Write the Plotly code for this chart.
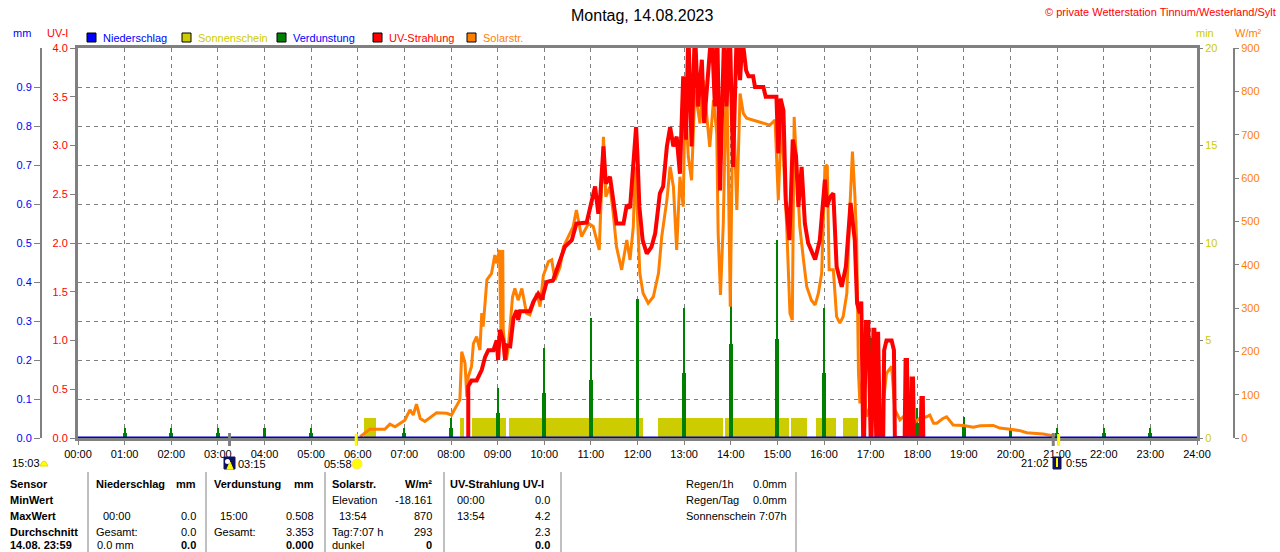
import plotly.graph_objects as go

W, H = 1280, 552
X0, X1, Y0, Y1 = 78, 1197, 48, 438  # plot frame in pixels
FONT = "Liberation Sans, Arial, sans-serif"
GRAY = "#808080"
C_BLUE, C_YEL, C_GREEN, C_RED, C_ORANGE = "#0000ff", "#cccc00", "#008000", "#ff0000", "#ff8000"

HOURS = list(range(25))
HOUR_LABELS = [f"{h:02d}:00" for h in HOURS]

# --- data -------------------------------------------------------------------
NIEDERSCHLAG_T = [0, 24]
NIEDERSCHLAG_MM = [0.0, 0.0]

SUN_START = [6.13, 8.19, 8.45, 9.24, 12.45, 13.87, 15.29, 15.82, 16.41]
SUN_END = [6.39, 8.28, 9.18, 12.12, 13.83, 15.25, 15.64, 16.26, 16.73]
SUN_MIN = 1.05

VERD_HOURS = [1, 2, 3, 4, 5, 7, 8, 9, 10, 11, 12, 13, 14, 15, 16, 17, 18, 19, 20, 21, 22, 23]
VERD_TOP = [0.026, 0.026, 0.026, 0.026, 0.026, 0.025, 0.052, 0.129, 0.230, 0.307, 0.356,
            0.333, 0.484, 0.508, 0.333, 0.256, 0.078, 0.053, 0.026, 0.026, 0.026, 0.026]
VERD_BASE = [0.014, 0.014, 0.014, 0.014, 0.014, 0.013, 0.026, 0.065, 0.116, 0.150, 0.176,
             0.166, 0.242, 0.254, 0.166, 0.125, 0.038, 0.027, 0.013, 0.013, 0.013, 0.013]

SOLAR_T = [
    6.05, 6.26, 6.58, 6.69, 6.80, 7.01, 7.12, 7.19, 7.26, 7.34,
    7.44, 7.69, 7.91, 8.01, 8.19, 8.23, 8.30, 8.34, 8.37, 8.44,
    8.48, 8.55, 8.62, 8.66, 8.69, 8.77, 8.87, 8.94, 8.98, 9.04,
    9.07, 9.09, 9.11, 9.12, 9.19, 9.23, 9.32, 9.37, 9.44, 9.52,
    9.62, 9.69, 9.84, 9.91, 9.98, 10.09, 10.16, 10.23, 10.34, 10.41,
    10.62, 10.69, 10.80, 10.95, 11.05, 11.18, 11.27, 11.32, 11.41, 11.48,
    11.55, 11.66, 11.77, 11.84, 11.91, 11.95, 11.98, 12.05, 12.12, 12.23,
    12.34, 12.45, 12.52, 12.63, 12.70, 12.77, 12.84, 12.91, 12.98, 13.02,
    13.09, 13.16, 13.23, 13.34, 13.41, 13.48, 13.55, 13.63, 13.70, 13.73,
    13.78, 13.84, 13.91, 13.95, 13.99, 14.05, 14.13, 14.20, 14.27, 14.34,
    14.48, 14.63, 14.84, 14.95, 15.02, 15.09, 15.20, 15.27, 15.32, 15.36,
    15.41, 15.48, 15.56, 15.63, 15.73, 15.81, 15.88, 15.95, 16.02, 16.07,
    16.11, 16.20, 16.27, 16.34, 16.41, 16.49, 16.56, 16.61, 16.66, 16.70,
    16.74, 16.77, 16.84, 16.91, 16.99, 17.13, 17.25, 17.34, 17.45, 17.52,
    17.63, 17.70, 17.92, 18.05, 18.20, 18.27, 18.35, 18.42, 18.55, 18.63,
    18.77, 18.99, 19.20, 19.35, 19.63, 19.77, 19.99, 20.20, 20.35, 20.70,
    20.92, 20.95,
]
SOLAR_W = [
    3, 20, 20, 32, 26, 41, 65, 53, 78, 45,
    38, 58, 57, 53, 88, 199, 173, 95, 141, 165,
    218, 234, 203, 288, 257, 365, 380, 422, 403, 434,
    250, 420, 434, 249, 180, 211, 326, 345, 318, 345,
    288, 284, 334, 303, 375, 407, 411, 365, 395, 441,
    488, 526, 465, 495, 488, 434, 695, 557, 580, 518,
    441, 388, 457, 411, 488, 626, 565, 380, 334, 311,
    326, 380, 465, 549, 626, 580, 434, 603, 534, 780,
    649, 595, 803, 726, 826, 741, 672, 780, 703, 472,
    330, 495, 865, 600, 303, 803, 526, 795, 749, 738,
    734, 728, 722, 734, 549, 741, 488, 288, 272, 741,
    626, 488, 411, 349, 318, 307, 334, 380, 626, 630,
    388, 388, 280, 265, 280, 334, 542, 661, 565, 457,
    149, 80, 149, 49, 72, 41, 60, 149, 165, 65,
    42, 49, 34, 45, 49, 53, 34, 34, 45, 49,
    30, 29, 25, 28, 29, 23, 20, 17, 12, 9,
    5, 2,
]

UV_T = [
    8.37, 8.37, 8.44, 8.55, 8.66, 8.73, 8.80, 8.91, 8.98, 9.01,
    9.05, 9.12, 9.16, 9.19, 9.27, 9.30, 9.34, 9.41, 9.44, 9.48,
    9.69, 9.77, 9.87, 9.95, 10.05, 10.19, 10.30, 10.37, 10.44, 10.59,
    10.69, 10.91, 10.98, 11.09, 11.16, 11.20, 11.27, 11.32, 11.41, 11.48,
    11.55, 11.70, 11.77, 11.84, 11.91, 11.97, 12.00, 12.04, 12.11, 12.20,
    12.30, 12.38, 12.48, 12.55, 12.63, 12.70, 12.77, 12.84, 12.91, 12.98,
    13.04, 13.09, 13.16, 13.23, 13.30, 13.38, 13.43, 13.52, 13.59, 13.66,
    13.71, 13.77, 13.86, 13.91, 13.98, 14.05, 14.13, 14.20, 14.25, 14.33,
    14.38, 14.48, 14.52, 14.70, 14.75, 14.98, 15.02, 15.07, 15.13, 15.18,
    15.26, 15.33, 15.40, 15.45, 15.52, 15.59, 15.66, 15.81, 15.91, 16.02,
    16.06, 16.13, 16.20, 16.27, 16.38, 16.47, 16.52, 16.57, 16.66, 16.71,
    16.77, 16.80, 16.84, 16.86, 16.90, 16.95, 17.00, 17.02, 17.06, 17.08,
    17.12, 17.14, 17.16, 17.18, 17.20, 17.27, 17.29, 17.34, 17.45, 17.50,
    17.52, 17.55, 17.73, 17.75, 17.78, 17.80, 17.86, 17.88, 17.91, 17.93,
    18.07, 18.09, 18.12, 18.13,
]
UV_I = [
    0.0, 0.53, 0.59, 0.59, 0.70, 0.83, 0.90, 0.90, 1.00, 0.80,
    1.11, 1.00, 0.80, 0.95, 0.94, 1.11, 1.23, 1.31, 1.21, 1.30,
    1.30, 1.40, 1.48, 1.42, 1.60, 1.62, 1.76, 1.86, 1.96, 2.03,
    2.20, 2.21, 2.37, 2.58, 2.30, 2.47, 2.99, 2.61, 2.68, 2.41,
    2.20, 2.20, 2.39, 2.36, 2.85, 3.19, 2.89, 2.37, 2.03, 1.89,
    1.96, 2.10, 2.51, 2.58, 2.99, 3.19, 2.99, 3.09, 2.71, 3.71,
    3.06, 4.20, 2.99, 4.20, 3.40, 3.88, 3.23, 3.77, 4.20, 3.40,
    4.20, 2.54, 4.20, 3.40, 4.20, 2.78, 4.20, 3.67, 4.10, 3.77,
    3.71, 3.71, 3.60, 3.60, 3.50, 3.50, 2.92, 3.48, 3.36, 2.44,
    2.03, 3.06, 2.89, 2.37, 2.78, 2.20, 2.00, 1.83, 2.03, 2.65,
    2.37, 2.47, 2.51, 1.76, 1.55, 1.76, 2.10, 2.41, 2.03, 1.38,
    1.28, 1.40, 0.0, 0.0, 1.19, 1.19, 0.0, 0.0, 1.11, 1.11,
    0.0, 0.0, 1.09, 0.50, 0.0, 0.0, 0.90, 1.00, 1.00, 0.90,
    0.0, 0.0, 0.0, 0.80, 0.80, 0.0, 0.0, 0.61, 0.61, 0.0,
    0.0, 0.41, 0.41, 0.0,
]

MOON_EVENTS = [3.25, 20.917]   # 03:15 / 20:55
SUN_EVENTS = [5.967, 21.033]   # 05:58 / 21:02


def px(x):
    return x / W


def py(y):
    return 1 - y / H


# --- figure -----------------------------------------------------------------
fig = go.Figure()

fig.add_bar(
    x=[(a + b) / 2 for a, b in zip(SUN_START, SUN_END)],
    y=[SUN_MIN] * len(SUN_START),
    width=[b - a for a, b in zip(SUN_START, SUN_END)],
    marker=dict(color=C_YEL, line_width=0),
    name="Sonnenschein",
    yaxis="y",
)
fig.add_bar(x=VERD_HOURS, y=VERD_BASE, width=0.085, marker=dict(color=C_GREEN, line_width=0),
            name="Verdunstung", yaxis="y2")
fig.add_bar(x=VERD_HOURS, y=VERD_TOP, width=0.045, marker=dict(color=C_GREEN, line_width=0),
            name="Verdunstung", yaxis="y2")
fig.add_scatter(x=SOLAR_T, y=SOLAR_W, mode="lines", line=dict(color=C_ORANGE, width=3),
                name="Solarstr.", yaxis="y3")
fig.add_scatter(x=UV_T, y=UV_I, mode="lines", line=dict(color=C_RED, width=4),
                name="UV-Strahlung", yaxis="y4")
fig.add_scatter(x=NIEDERSCHLAG_T, y=NIEDERSCHLAG_MM, mode="lines",
                line=dict(color="#0000cc", width=3), name="Niederschlag", yaxis="y5")

xdom = [px(X0), px(X1)]
ydom = [py(Y1), py(Y0)]
tickfont = lambda c: dict(family=FONT, size=11, color=c)

fig.update_layout(
    width=W, height=H,
    margin=dict(l=0, r=0, t=0, b=0),
    paper_bgcolor="white", plot_bgcolor="white",
    showlegend=False, barmode="overlay", bargap=0,
    font=dict(family=FONT, size=11, color="black"),
    xaxis=dict(
        domain=xdom, range=[0, 24], tickvals=HOURS, ticktext=HOUR_LABELS,
        tickfont=tickfont("black"), ticks="outside", ticklen=4, tickcolor=GRAY,
        showgrid=True, gridcolor=GRAY, griddash="4px,4px", gridwidth=1,
        showline=True, linecolor=GRAY, linewidth=3, mirror=True, zeroline=False,
        layer="below traces", automargin=False, fixedrange=True,
    ),
    yaxis=dict(  # Sonnenschein, min
        domain=ydom, range=[0, 20], side="right", anchor="x",
        tickvals=[0, 5, 10, 15, 20], tickfont=tickfont(C_YEL),
        ticks="outside", ticklen=5, tickcolor=GRAY, showgrid=False, zeroline=False,
        showline=False, automargin=False,
    ),
    yaxis2=dict(  # mm
        overlaying="y", anchor="free", position=px(41), side="left", range=[0, 1],
        tickvals=[round(0.1 * i, 1) for i in range(10)],
        ticktext=[f"{0.1 * i:.1f}" for i in range(10)], tickfont=tickfont(C_BLUE),
        ticks="outside", ticklen=6, tickcolor=GRAY,
        showgrid=True, gridcolor=GRAY, griddash="4px,4px", gridwidth=1,
        showline=True, linecolor=GRAY, linewidth=2, zeroline=False, automargin=False,
    ),
    yaxis3=dict(  # W/m²
        overlaying="y", anchor="free", position=px(1234), side="right", range=[0, 900],
        tickvals=list(range(0, 901, 100)), tickfont=tickfont(C_ORANGE),
        ticks="outside", ticklen=4, tickcolor=GRAY, showgrid=False,
        showline=True, linecolor=GRAY, linewidth=2, zeroline=False, automargin=False,
    ),
    yaxis4=dict(  # UV-I
        overlaying="y", anchor="x", side="left", range=[0, 4],
        tickvals=[0.5 * i for i in range(9)], ticktext=[f"{0.5 * i:.1f}" for i in range(9)],
        tickfont=tickfont(C_RED), ticks="outside", ticklen=5, tickcolor=GRAY,
        showgrid=False, showline=True, linecolor=GRAY, linewidth=3, mirror=True,
        zeroline=False, automargin=False,
    ),
    yaxis5=dict(overlaying="y", anchor="x", range=[0, 1], visible=False),
)

ann = []
shapes = []


def txt(x, y, s, color="black", anchor="left", size=11, bold=False):
    ann.append(dict(
        x=px(x), y=py(y), xref="paper", yref="paper", text=f"<b>{s}</b>" if bold else s,
        showarrow=False, xanchor=anchor, yanchor="middle",
        font=dict(family=FONT, size=size, color=color),
    ))


def rect(x0, y0, x1, y1, fill, line="black", lw=1):
    shapes.append(dict(type="rect", xref="paper", yref="paper",
                       x0=px(x0), x1=px(x1), y0=py(y1), y1=py(y0),
                       fillcolor=fill, line=dict(color=line, width=lw)))


def vline(x, y0, y1, color=GRAY, lw=1):
    shapes.append(dict(type="line", xref="paper", yref="paper",
                       x0=px(x), x1=px(x), y0=py(y0), y1=py(y1), line=dict(color=color, width=lw)))


# title, copyright, axis captions
txt(642, 15, "Montag, 14.08.2023", anchor="center", size=16)
txt(1278, 12, "© private Wetterstation Tinnum/Westerland/Sylt", C_RED, anchor="right", size=11)
txt(22, 33, "mm", C_BLUE, anchor="center")
txt(57, 33, "UV-I", C_RED, anchor="center")
txt(1205, 33, "min", C_YEL, anchor="center")
txt(1248, 33, "W/m²", C_ORANGE, anchor="center")

# legend
for sx, fill, label, tcol in [
    (87, C_BLUE, "Niederschlag", C_BLUE),
    (182, C_YEL, "Sonnenschein", C_YEL),
    (277, C_GREEN, "Verdunstung", C_BLUE),
    (373, C_RED, "UV-Strahlung", C_RED),
    (467, C_ORANGE, "Solarstr.", C_ORANGE),
]:
    rect(sx, 33, sx + 9, 42, fill)
    txt(sx + 14, 38, label, tcol)

# sun / moon event ticks under the axis
for t in MOON_EVENTS:
    shapes.append(dict(type="line", xref="x", yref="paper", x0=t, x1=t,
                       y0=py(446), y1=py(433), line=dict(color=GRAY, width=3)))
for t in SUN_EVENTS:
    shapes.append(dict(type="line", xref="x", yref="paper", x0=t, x1=t,
                       y0=py(446), y1=py(434), line=dict(color="#ffff00", width=3)))

# sun / moon row
txt(10, 463, "15:03")
shapes.append(dict(type="path", xref="paper", yref="paper", fillcolor="#ffff00",
                   line=dict(color="#e0e000", width=1),
                   path=f"M {px(40)} {py(466)} Q {px(44)} {py(456)} {px(48)} {py(466)} Z"))
rect(224, 457, 235, 469, "#101060", line="#101060")
shapes.append(dict(type="circle", xref="paper", yref="paper", x0=px(225), x1=px(230),
                   y0=py(464), y1=py(459), fillcolor="white", line=dict(color="white", width=0)))
shapes.append(dict(type="path", xref="paper", yref="paper", fillcolor="#ffff00",
                   line=dict(color="#ffff00", width=1),
                   path=f"M {px(227)} {py(469)} L {px(230)} {py(462)} L {px(233)} {py(469)} Z"))
txt(236, 464, "03:15")
txt(322, 464, "05:58")
shapes.append(dict(type="circle", xref="paper", yref="paper", x0=px(352), x1=px(362),
                   y0=py(469), y1=py(459), fillcolor="#ffff00", line=dict(color="#ffe060", width=1)))
txt(1051, 463, "21:02", anchor="right")
rect(1053, 457, 1061, 469, "#101060", line="#101060")
vline(1057, 458, 467, color="#ffff00", lw=2)
txt(1064, 463, "0:55")

# table separators
for x in [88, 206, 325, 444, 561, 796]:
    vline(x, 472, 552)

# table body
rows = [484, 500, 516, 532, 545]
for y, s in zip(rows, ["Sensor", "MinWert", "MaxWert", "Durchschnitt", "14.08. 23:59"]):
    txt(8, y, s, bold=True)

txt(94, rows[0], "Niederschlag", bold=True)
txt(198, rows[0], "mm", anchor="right", bold=True)
txt(101, rows[2], "00:00")
txt(198, rows[2], "0.0", anchor="right")
txt(94, rows[3], "Gesamt:")
txt(198, rows[3], "0.0", anchor="right")
txt(95, rows[4], "0.0 mm")
txt(198, rows[4], "0.0", anchor="right", bold=True)

txt(212, rows[0], "Verdunstung", bold=True)
txt(316, rows[0], "mm", anchor="right", bold=True)
txt(218, rows[2], "15:00")
txt(316, rows[2], "0.508", anchor="right")
txt(212, rows[3], "Gesamt:")
txt(316, rows[3], "3.353", anchor="right")
txt(316, rows[4], "0.000", anchor="right", bold=True)

txt(330, rows[0], "Solarstr.", bold=True)
txt(434, rows[0], "W/m²", anchor="right", bold=True)
txt(330, rows[1], "Elevation")
txt(434, rows[1], "-18.161", anchor="right")
txt(337, rows[2], "13:54")
txt(434, rows[2], "870", anchor="right")
txt(330, rows[3], "Tag:7:07 h")
txt(434, rows[3], "293", anchor="right")
txt(330, rows[4], "dunkel")
txt(434, rows[4], "0", anchor="right", bold=True)

txt(448, rows[0], "UV-Strahlung UV-I", bold=True)
txt(455, rows[1], "00:00")
txt(552, rows[1], "0.0", anchor="right")
txt(455, rows[2], "13:54")
txt(552, rows[2], "4.2", anchor="right")
txt(552, rows[3], "2.3", anchor="right")
txt(552, rows[4], "0.0", anchor="right", bold=True)

for y, a, b in zip(rows[:3], ["Regen/1h", "Regen/Tag", "Sonnenschein"], ["0.0mm", "0.0mm", "7:07h"]):
    txt(684, y, a)
    txt(789, y, b, anchor="right")

fig.update_layout(annotations=ann, shapes=shapes)

fig.write_html(
    "out.html",
    config={"displayModeBar": False},
    post_script="document.body.style.margin='0';document.body.style.overflow='hidden';",
)
